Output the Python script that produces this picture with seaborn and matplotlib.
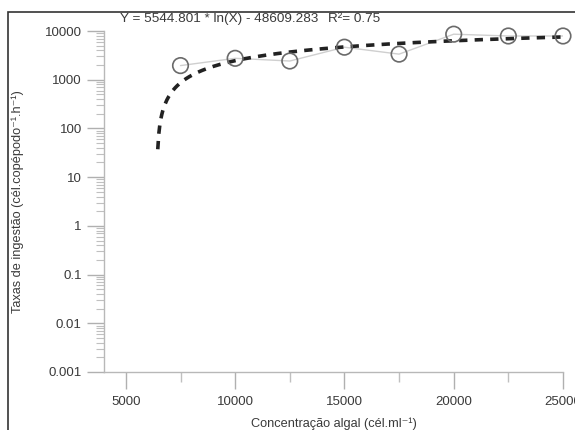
import numpy as np
import pandas as pd
import matplotlib
matplotlib.use("Agg")
import matplotlib.pyplot as plt
import matplotlib.ticker as mticker
from matplotlib.patches import Rectangle
import seaborn as sns

# ---- data ----
concentration = [7500, 10000, 12500, 15000, 17500, 20000, 22500, 25000]
ingestion = [1950, 2750, 2420, 4650, 3350, 8600, 7900, 7900]

# fitted logarithmic model printed on the chart
fit_a = 5544.801
fit_b = -48609.283
fit_r2 = 0.75
fit_x_start = 6460
fit_x_end = 25000

y_ticks = [0.001, 0.01, 0.1, 1, 10, 100, 1000, 10000]
y_tick_labels = ["0.001", "0.01", "0.1", "1", "10", "100", "1000", "10000"]
x_ticks = [5000, 10000, 15000, 20000, 25000]
x_tick_labels = ["5000", "10000", "15000", "20000", "25000"]

sns.set_style("white")
plt.rcParams['font.family'] = ['Liberation Sans', 'DejaVu Sans']

fig = plt.figure(figsize=(5.75, 4.30), dpi=100)
ax = fig.add_axes([104/575, 58/430, (563-104)/575, (372-31)/430])

df = pd.DataFrame({"x": concentration, "y": ingestion})
fx = np.linspace(fit_x_start, fit_x_end, 400)
fit_df = pd.DataFrame({"x": fx, "y": fit_a * np.log(fx) + fit_b})

sns.lineplot(data=df, x="x", y="y", ax=ax, color="#cfcfcf", lw=1.0,
             zorder=2)
sns.lineplot(data=fit_df, x="x", y="y", ax=ax, color="#222222", lw=2.6,
             linestyle=(0, (2.3, 2.0)), zorder=3)
sns.scatterplot(data=df, x="x", y="y", ax=ax, s=125, facecolor="none",
                edgecolor="#6a6a6a", linewidth=1.2, zorder=4, clip_on=False)

ax.set_yscale("log")
ax.set_ylim(0.001, 10000)
ax.set_xlim(4000, 25000)

ax.set_yticks(y_ticks)
ax.set_yticklabels(y_tick_labels)
ax.yaxis.set_minor_locator(mticker.LogLocator(base=10, subs=np.arange(2, 10), numticks=100))
ax.yaxis.set_minor_formatter(mticker.NullFormatter())
ax.set_xticks(x_ticks)
ax.set_xticklabels(x_tick_labels)
ax.xaxis.set_minor_locator(mticker.MultipleLocator(2500))

ax.tick_params(axis="both", which="major", direction="out", color="#b0b0b0",
               labelcolor="#3a3a3a", labelsize=9.5, width=1.0)
ax.tick_params(axis="y", which="major", length=12, pad=4, left=True)
ax.tick_params(axis="y", which="minor", length=6, color="#c0c0c0", width=0.8, left=True)
ax.tick_params(axis="x", which="major", length=12, pad=5, bottom=True)
ax.tick_params(axis="x", which="minor", length=7, color="#c0c0c0", width=1.0, bottom=True)

for side in ["top", "right"]:
    ax.spines[side].set_visible(False)
for side in ["left", "bottom"]:
    ax.spines[side].set_color("#b8b8b8")
    ax.spines[side].set_linewidth(1.0)

ax.set_xlabel("Concentração algal (cél.ml⁻¹)", fontsize=9.2, color="#3a3a3a", labelpad=7)
ax.set_ylabel("Taxas de ingestão (cél.copépodo⁻¹.h⁻¹)", fontsize=9.2, color="#3a3a3a", labelpad=15)

fig.text(120/575, 1 - 19/430, f"Y = {fit_a} * ln(X) - {abs(fit_b)}", fontsize=9.7,
         color="#3a3a3a", va="center", ha="left")
fig.text(328/575, 1 - 19/430, f"R²= {fit_r2}", fontsize=9.7,
         color="#3a3a3a", va="center", ha="left")

fig.patches.append(Rectangle((8/575, -0.05), 1.2, 1.05 - 12/430, transform=fig.transFigure,
                             fill=False, edgecolor="#333333", lw=1.2, zorder=10))

fig.savefig("out.png", dpi=100, facecolor="white")
